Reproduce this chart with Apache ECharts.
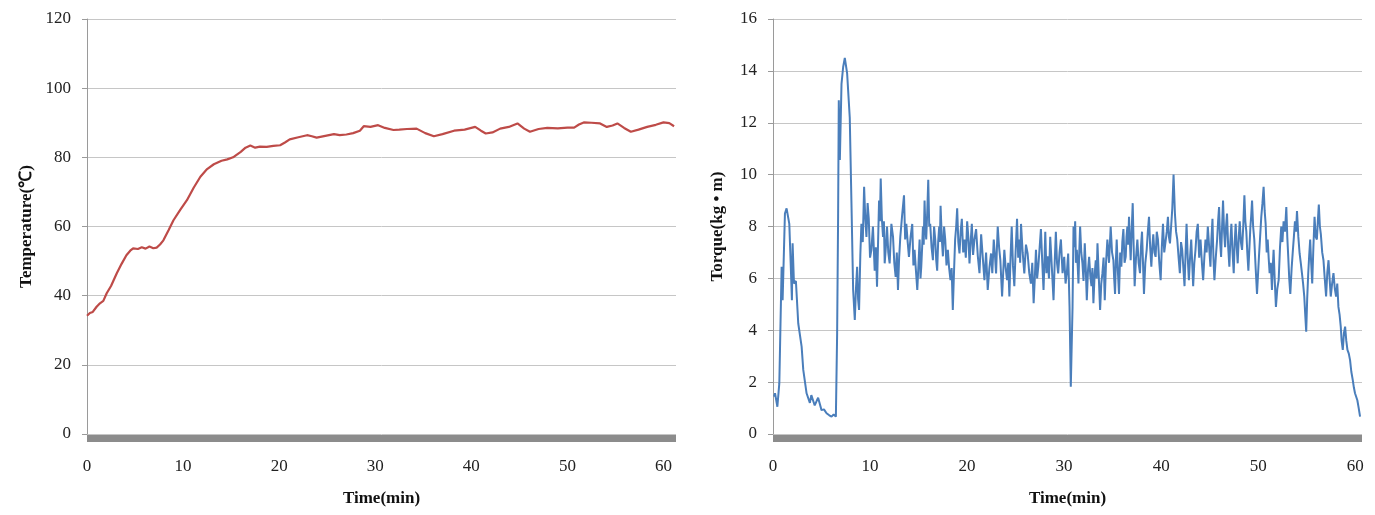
<!DOCTYPE html>
<html>
<head>
<meta charset="utf-8">
<script src="https://cdn.jsdelivr.net/npm/echarts@6/dist/echarts.min.js"></script>
<style>
html,body{margin:0;padding:0;background:#fff;}
#chart{width:1375px;height:515px;}
</style>
</head>
<body>
<div id="chart"></div>
<script>
// ---- Data ----
const xTickLabels = [0, 10, 20, 30, 40, 50, 60];
const tempYTicks = [0, 20, 40, 60, 80, 100, 120];
const torqueYTicks = [0, 2, 4, 6, 8, 10, 12, 14, 16];

const tempTime = [0,0.3,0.6,1.0,1.35,1.7,2.05,2.5,3.1,3.6,4.1,4.5,4.8,5.3,5.7,6.1,6.5,6.9,7.25,7.6,7.95,8.5,9.0,9.7,10.4,11.1,11.8,12.5,13.2,14.0,14.6,15.2,16.0,16.5,17.0,17.5,18.0,18.7,19.4,20.1,20.6,21.1,22.0,22.9,23.4,23.9,24.8,25.7,26.3,27.0,27.7,28.4,28.8,29.5,30.3,31.0,31.9,32.5,33.3,34.3,35.2,36.1,37.0,38.2,39.3,40.4,41.0,41.5,42.2,43.0,43.9,44.8,45.5,46.1,47.0,47.9,49.0,50.0,50.7,51.2,51.7,52.5,53.4,54.1,54.7,55.2,55.9,56.6,57.4,58.3,59.2,60.0,60.6,61.1];
const tempValue = [34.2,35.0,35.3,36.8,37.8,38.5,40.7,42.8,46.5,49.2,51.7,53.0,53.7,53.5,54.0,53.6,54.2,53.7,53.9,54.8,56.0,59.0,61.8,64.8,67.6,71.2,74.4,76.6,78.0,79.0,79.4,80.0,81.6,82.8,83.4,82.8,83.1,83.0,83.3,83.5,84.3,85.2,85.8,86.4,86.1,85.7,86.2,86.7,86.4,86.6,87.0,87.7,89.0,88.8,89.3,88.5,87.9,88.0,88.2,88.3,87.0,86.1,86.7,87.7,88.0,88.8,87.7,86.9,87.2,88.3,88.8,89.8,88.3,87.4,88.2,88.5,88.4,88.6,88.6,89.5,90.1,90.0,89.8,88.8,89.2,89.8,88.5,87.4,88.0,88.8,89.4,90.1,89.9,89.0];

// torque readings as [time (min), torque (kg·m)]
const torqueStart = [[0.1,1.44],[0.21,1.57],[0.45,1.05],[0.65,1.95],[0.89,6.45],[0.99,5.16],[1.23,8.5],[1.4,8.7],[1.68,8.1],[1.82,6.6],[1.95,5.16],[2.02,7.35],[2.16,5.8],[2.36,5.9],[2.6,4.27],[2.95,3.37],[3.12,2.47],[3.46,1.57],[3.8,1.2],[3.95,1.5],[4.15,1.44],[4.3,1.1],[4.49,1.05],[4.65,1.4],[4.83,1.38],[5.0,0.92],[5.25,0.95],[5.52,0.8],[5.8,0.72],[6.03,0.67],[6.25,0.75],[6.48,0.67],[6.61,3.88],[6.71,8.4],[6.78,12.87],[6.89,10.56],[7.06,13.5],[7.23,14.15],[7.4,14.5],[7.64,13.9],[7.91,12.2],[8.08,9.0],[8.26,5.55],[8.43,4.4]];
const torqueMiddle = [[8.55,5.6],[8.67,6.45],[8.77,5.2],[8.87,4.78],[9.0,6.9],[9.11,8.1],[9.25,7.4],[9.39,9.53],[9.5,8.4],[9.63,7.6],[9.75,8.9],[9.87,8.3],[10.0,6.8],[10.14,7.1],[10.3,8.0],[10.48,6.3],[10.6,7.2],[10.72,5.68],[10.83,7.4],[10.93,9.0],[11.02,8.2],[11.1,9.85],[11.22,8.3],[11.34,7.6],[11.43,8.2],[11.51,6.58],[11.63,7.2],[11.75,8.0],[11.88,7.0],[12.02,6.58],[12.2,8.1],[12.37,7.6],[12.5,6.6],[12.64,6.06],[12.76,7.0],[12.88,5.55],[13.0,6.8],[13.12,7.6],[13.3,8.4],[13.5,9.2],[13.62,7.5],[13.74,8.1],[13.88,7.4],[14.01,6.83],[14.18,7.6],[14.35,8.1],[14.47,6.5],[14.59,7.1],[14.73,6.3],[14.87,5.55],[15.0,6.6],[15.11,7.5],[15.2,6.0],[15.28,6.45],[15.37,7.2],[15.45,8.0],[15.53,7.3],[15.62,9.0],[15.7,8.0],[15.79,7.5],[15.9,8.6],[16.0,9.8],[16.1,8.0],[16.2,8.1],[16.34,7.2],[16.48,6.7],[16.6,8.0],[16.72,7.5],[16.82,6.7],[16.92,6.3],[17.02,7.4],[17.13,8.0],[17.2,7.4],[17.27,8.8],[17.4,7.5],[17.51,6.85],[17.63,8.0],[17.75,7.5],[17.88,6.5],[18.02,7.1],[18.15,6.4],[18.29,5.93],[18.41,6.4],[18.53,4.78],[18.65,6.2],[18.77,7.5],[18.88,8.0],[18.98,8.7],[19.1,7.4],[19.22,6.96],[19.34,7.8],[19.46,8.3],[19.6,7.0],[19.73,7.5],[19.87,6.8],[20.01,8.2],[20.13,7.6],[20.25,6.58],[20.37,7.4],[20.49,8.1],[20.62,6.9],[20.76,7.5],[20.93,7.9],[21.11,6.85],[21.28,6.2],[21.45,7.7],[21.62,6.8],[21.79,5.93],[21.96,7.0],[22.13,5.55],[22.3,6.4],[22.47,6.96],[22.6,6.2],[22.75,7.5],[22.87,6.9],[22.99,6.19],[23.08,7.2],[23.16,8.0],[23.3,7.2],[23.43,6.7],[23.52,6.0],[23.61,5.3],[23.72,6.2],[23.84,7.1],[23.98,6.4],[24.12,5.93],[24.24,6.6],[24.36,5.3],[24.48,6.8],[24.6,8.0],[24.73,6.5],[24.87,5.7],[25.0,7.0],[25.15,8.3],[25.27,6.8],[25.39,7.5],[25.47,6.6],[25.56,8.1],[25.73,7.0],[25.9,6.19],[26.07,7.3],[26.24,6.96],[26.41,6.2],[26.58,5.8],[26.72,6.6],[26.86,5.04],[26.98,6.0],[27.1,7.1],[27.22,6.0],[27.34,6.45],[27.48,7.2],[27.61,7.9],[27.75,6.6],[27.88,5.55],[27.97,6.6],[28.06,7.8],[28.18,6.2],[28.3,6.85],[28.44,6.0],[28.57,7.6],[28.74,6.4],[28.91,5.16],[29.03,6.6],[29.15,7.8],[29.27,6.6],[29.39,6.19],[29.53,7.0],[29.67,7.5],[29.84,6.2],[30.01,6.83],[30.15,5.8],[30.28,6.2],[30.42,6.96],[30.56,4.9],[30.69,1.82],[30.87,4.9],[30.97,8.0],[31.05,7.2],[31.14,8.2],[31.22,6.6],[31.31,7.1],[31.4,6.5],[31.48,5.8],[31.56,7.0],[31.65,8.0],[31.77,7.0],[31.89,6.58],[32.0,5.9],[32.13,7.35],[32.23,6.4],[32.34,5.16],[32.46,6.3],[32.58,6.83],[32.7,6.1],[32.82,5.7],[32.92,6.4],[33.02,5.04],[33.14,6.1],[33.26,6.7],[33.35,6.0],[33.44,7.35],[33.58,6.0],[33.71,4.78],[33.83,5.8],[33.95,6.2],[34.07,6.8],[34.19,5.16],[34.32,6.6],[34.46,7.5],[34.63,6.6],[34.8,8.0],[34.94,7.0],[35.08,6.7],[35.16,6.0],[35.25,5.4],[35.33,6.6],[35.42,7.5],[35.54,6.3],[35.66,5.4],[35.78,7.0],[35.9,6.45],[36.0,7.4],[36.11,7.9],[36.23,6.6],[36.35,6.83],[36.43,7.6],[36.52,8.0],[36.6,7.3],[36.69,8.37],[36.78,7.4],[36.86,6.7],[36.96,7.8],[37.07,8.9],[37.17,7.2],[37.27,5.7],[37.41,6.8],[37.55,7.5],[37.68,6.6],[37.82,6.2],[37.92,7.2],[38.03,7.8],[38.13,6.6],[38.23,5.4],[38.37,6.6],[38.51,7.1],[38.63,7.8],[38.75,8.37],[38.87,7.2],[38.99,6.45],[39.09,7.2],[39.19,7.7],[39.31,7.0],[39.43,6.83],[39.55,7.8],[39.67,7.5],[39.81,6.6],[39.95,5.93],[40.07,7.2],[40.19,8.1],[40.32,7.0],[40.46,6.96],[40.58,7.8],[40.7,8.37],[40.8,7.6],[40.91,7.35],[41.03,8.0],[41.15,8.7],[41.28,10.0],[41.42,8.5],[41.54,7.8],[41.66,7.5],[41.8,6.8],[41.93,6.2],[42.05,7.4],[42.17,7.1],[42.29,6.4],[42.41,5.7],[42.52,7.0],[42.62,8.1],[42.74,6.8],[42.86,5.93],[42.98,6.8],[43.1,7.5],[43.2,6.6],[43.3,5.7],[43.42,6.6],[43.54,7.1],[43.66,7.8],[43.78,8.1],[43.92,6.8],[44.06,7.5],[44.2,6.6],[44.33,5.93],[44.45,6.8],[44.57,7.5],[44.69,7.0],[44.81,8.0],[44.95,7.2],[45.08,6.45],[45.18,7.5],[45.29,8.3],[45.39,6.8],[45.49,5.93],[45.63,6.8],[45.77,7.5],[45.87,8.2],[45.97,8.75],[46.08,7.4],[46.18,6.83],[46.28,8.0],[46.38,9.0],[46.49,7.8],[46.59,7.2],[46.69,8.0],[46.79,8.5],[46.91,7.2],[47.03,6.45],[47.13,7.4],[47.24,8.1],[47.36,7.0],[47.48,6.2],[47.58,7.4],[47.68,8.1],[47.79,7.2],[47.89,6.58],[48.0,7.6],[48.1,8.2],[48.22,7.4],[48.34,7.1],[48.46,8.0],[48.58,9.2],[48.68,8.2],[48.78,7.8],[48.88,7.0],[48.99,6.3],[49.1,7.2],[49.2,8.0],[49.28,8.4],[49.37,9.0],[49.48,8.0],[49.6,7.5],[49.74,6.4],[49.88,5.4]];
const torqueEnd = [[50.08,6.83],[50.2,7.6],[50.32,8.37],[50.44,8.9],[50.56,9.53],[50.67,8.6],[50.77,8.1],[50.88,7.0],[50.98,7.5],[51.08,6.8],[51.18,6.2],[51.3,6.6],[51.42,5.55],[51.5,6.4],[51.59,7.1],[51.7,6.0],[51.83,4.9],[51.97,5.6],[52.11,5.93],[52.25,7.2],[52.38,8.0],[52.5,7.4],[52.62,8.2],[52.76,7.8],[52.9,8.75],[53.0,7.6],[53.1,6.83],[53.2,6.0],[53.31,5.4],[53.45,6.4],[53.58,7.1],[53.68,7.6],[53.79,8.2],[53.9,7.8],[54.0,8.6],[54.14,7.6],[54.27,6.96],[54.39,6.6],[54.51,6.2],[54.63,5.8],[54.75,5.3],[54.85,4.6],[54.95,3.94],[55.05,5.2],[55.16,6.2],[55.26,6.9],[55.36,7.5],[55.46,6.6],[55.57,5.8],[55.69,7.2],[55.81,8.37],[55.93,7.6],[56.05,7.5],[56.15,8.2],[56.25,8.85],[56.36,8.0],[56.46,7.7],[56.6,7.0],[56.73,6.7],[56.86,6.0],[57.0,5.3],[57.12,6.2],[57.25,6.7],[57.36,6.0],[57.48,5.3],[57.62,5.8],[57.76,6.2],[57.9,5.6],[58.03,5.3],[58.15,5.8],[58.27,4.9],[58.39,4.6],[58.51,4.14],[58.6,3.6],[58.72,3.24],[58.84,3.9],[58.96,4.14],[59.08,3.6],[59.2,3.24],[59.34,3.1],[59.47,2.85],[59.6,2.4],[59.75,2.08],[59.86,1.8],[59.98,1.57],[60.1,1.5],[60.22,1.3],[60.36,1.0],[60.5,0.67]];

const tempData = tempTime.map((t, i) => [t, tempValue[i]]);
const torqueData = torqueStart.concat(torqueMiddle, torqueEnd);

const FONT = "'Liberation Serif', 'Times New Roman', serif";

function xAxisCfg(gridIndex, max) {
  return {
    type: 'value', gridIndex, min: 0, max, interval: 10,
    offset: 4,
    axisLine: { show: true, onZero: false, lineStyle: { color: '#8c8c8c', width: 7, cap: 'butt' } },
    axisTick: { show: false },
    splitLine: { show: false },
    axisLabel: {
      margin: 20, color: '#222', fontFamily: FONT, fontSize: 17,
      formatter: v => (xTickLabels.indexOf(v) >= 0 ? String(v) : '')
    },
    name: 'Time(min)', nameLocation: 'middle', nameGap: 52,
    nameTextStyle: { fontFamily: FONT, fontSize: 17, fontWeight: 'bold', color: '#111' }
  };
}
function yAxisCfg(gridIndex, ticks, name, nameGap) {
  return {
    type: 'value', gridIndex, min: ticks[0], max: ticks[ticks.length - 1],
    interval: ticks[1] - ticks[0],
    axisLine: { show: true, lineStyle: { color: '#9a9a9a', width: 1 } },
    axisTick: { show: true, length: 5, lineStyle: { color: '#9a9a9a' } },
    splitLine: { show: true, lineStyle: { color: '#c6c6c6', width: 1 } },
    axisLabel: { margin: 16, color: '#222', fontFamily: FONT, fontSize: 17 },
    name, nameLocation: 'middle', nameGap, nameRotate: 90,
    nameTextStyle: { fontFamily: FONT, fontSize: 17, fontWeight: 'bold', color: '#111' }
  };
}

const chart = echarts.init(document.getElementById('chart'), null, { renderer: 'canvas' });
chart.setOption({
  backgroundColor: '#ffffff',
  animation: false,
  grid: [
    { left: 87, top: 19, width: 589, height: 415 },
    { left: 773, top: 19, width: 589, height: 415 }
  ],
  xAxis: [xAxisCfg(0, 61.3), xAxisCfg(1, 60.7)],
  yAxis: [
    yAxisCfg(0, tempYTicks, 'Temperature(℃)', 52),
    yAxisCfg(1, torqueYTicks, 'Torque(kg • m)', 47)
  ],
  series: [
    {
      type: 'line', xAxisIndex: 0, yAxisIndex: 0, data: tempData,
      showSymbol: false, smooth: false,
      lineStyle: { color: '#be4b48', width: 2.2 }
    },
    {
      type: 'line', xAxisIndex: 1, yAxisIndex: 1, data: torqueData,
      showSymbol: false, smooth: false,
      lineStyle: { color: '#4a7ebb', width: 2 }
    }
  ]
});
</script>
</body>
</html>
